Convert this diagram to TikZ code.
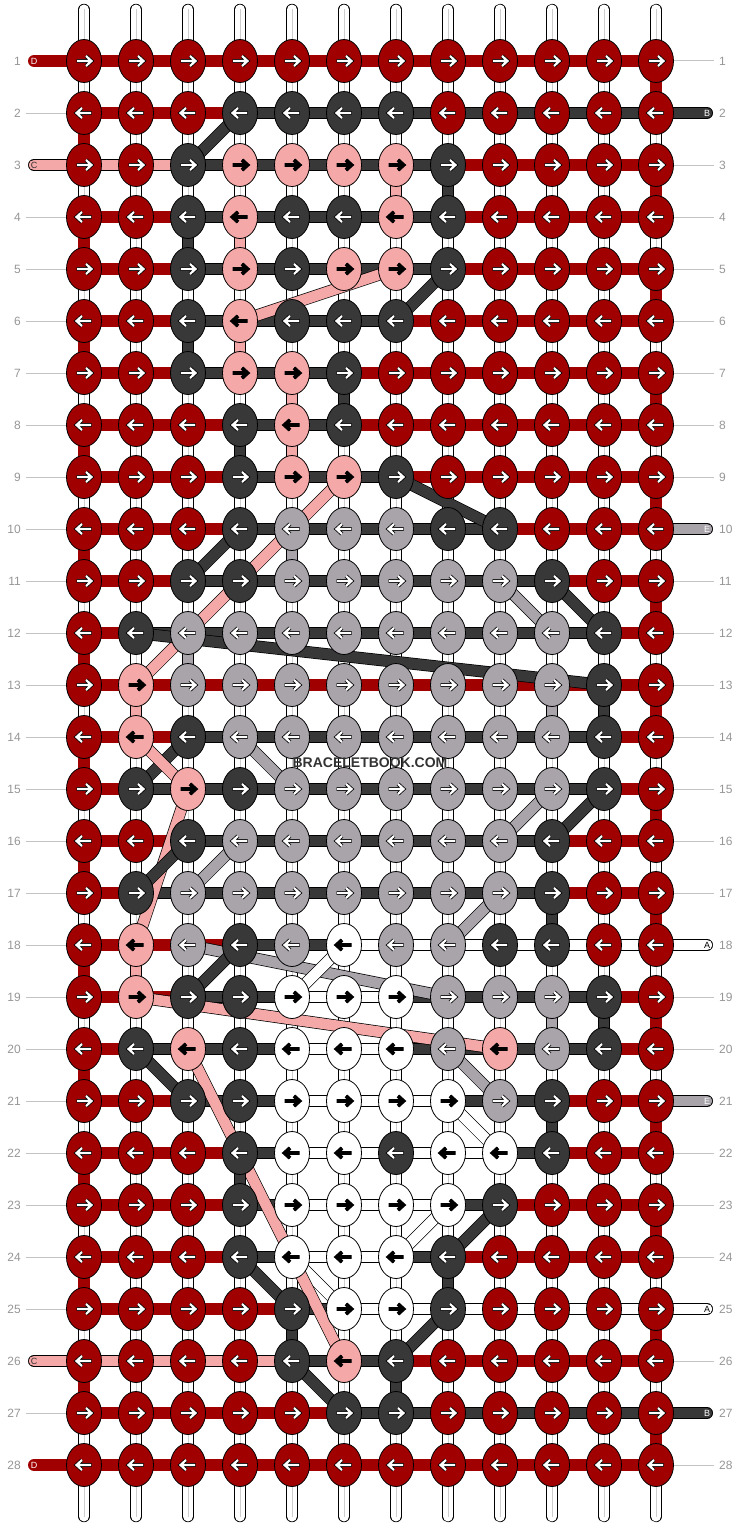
\documentclass[tikz,border=0pt]{standalone}
\usepackage{fontspec}
\setmainfont{Liberation Sans}
\usetikzlibrary{shapes.geometric}

\definecolor{knotred}{RGB}{160,0,0}
\definecolor{knotdark}{RGB}{56,56,56}
\definecolor{knotpink}{RGB}{245,168,168}
\definecolor{knotgray}{RGB}{168,164,170}
\definecolor{numgray}{RGB}{150,150,150}
\definecolor{leadgray}{RGB}{195,195,195}
\definecolor{midgray}{RGB}{205,205,205}
\definecolor{wmgray}{RGB}{51,51,51}

\pgfdeclarelayer{base}
\pgfdeclarelayer{thread}
\pgfsetlayers{base,thread,main}

\begin{document}
\begin{tikzpicture}[
    x=1pt, y=-1pt,
    arrowfill/.store in=\arrowfill,
    arrowedge/.store in=\arrowedge,
    knot/.style={ellipse, draw=black, line width=0.8pt, minimum width=35pt, minimum height=43pt, inner sep=0pt},
    arrR/.style={path picture={
        \begin{scope}[shift={(path picture bounding box.center)}]
        \draw[line width=3.8pt, \arrowedge, line join=miter] (-7.5,0) -- (7,0) (2,-5) -- (7.5,0) -- (2,5);
        \draw[line width=2.2pt, \arrowfill, line join=miter] (-7,0) -- (7,0) (2,-5) -- (7.5,0) -- (2,5);
        \end{scope}}},
    arrL/.style={path picture={
        \begin{scope}[shift={(path picture bounding box.center)}]
        \draw[line width=3.8pt, \arrowedge, line join=miter] (7.5,0) -- (-7,0) (-2,-5) -- (-7.5,0) -- (-2,5);
        \draw[line width=2.2pt, \arrowfill, line join=miter] (7,0) -- (-7,0) (-2,-5) -- (-7.5,0) -- (-2,5);
        \end{scope}}},
    kR/.style={fill=knotred, arrowfill=white, arrowedge=black},
    kK/.style={fill=knotdark, arrowfill=white, arrowedge=black},
    kP/.style={fill=knotpink, arrowfill=black, arrowedge=black},
    kG/.style={fill=knotgray, arrowfill=white, arrowedge=black},
    kW/.style={fill=white, arrowfill=black, arrowedge=black},
    thread/.style={line width=0.7pt, double distance=10.6pt},
    tR/.style={double=knotred, draw=knotred},
    tK/.style={double=knotdark},
    tP/.style={double=knotpink},
    tG/.style={double=knotgray},
    tW/.style={double=white},
    basestr/.style={line width=0.7pt, double=white, double distance=10pt, line cap=round},
    rownum/.style={text=numgray, font=\fontsize{12}{12}\selectfont, inner sep=0pt},
    leader/.style={draw=leadgray, line width=1pt},
    endlbl/.style={font=\fontsize{9}{9}\selectfont, inner sep=0pt},
    watermark/.style={text=wmgray, font=\bfseries\fontsize{14}{14}\selectfont}
]
\useasboundingbox (0,0) rectangle (740,1528);

% Knots (one colour list per row, odd rows right, even rows left)
\foreach \row [count=\r] in {%
    {R,R,R,R,R,R,R,R,R,R,R,R},%
    {R,R,R,K,K,K,K,R,R,R,R,R},%
    {R,R,K,P,P,P,P,K,R,R,R,R},%
    {R,R,K,P,K,K,P,K,R,R,R,R},%
    {R,R,K,P,K,P,P,K,R,R,R,R},%
    {R,R,K,P,K,K,K,R,R,R,R,R},%
    {R,R,K,P,P,K,R,R,R,R,R,R},%
    {R,R,R,K,P,K,R,R,R,R,R,R},%
    {R,R,R,K,P,P,K,R,R,R,R,R},%
    {R,R,R,K,G,G,G,K,K,R,R,R},%
    {R,R,K,K,G,G,G,G,G,K,R,R},%
    {R,K,G,G,G,G,G,G,G,G,K,R},%
    {R,P,G,G,G,G,G,G,G,G,K,R},%
    {R,P,K,G,G,G,G,G,G,G,K,R},%
    {R,K,P,K,G,G,G,G,G,G,K,R},%
    {R,R,K,G,G,G,G,G,G,K,R,R},%
    {R,K,G,G,G,G,G,G,G,K,R,R},%
    {R,P,G,K,G,W,G,G,K,K,R,R},%
    {R,P,K,K,W,W,W,G,G,G,K,R},%
    {R,K,P,K,W,W,W,G,P,G,K,R},%
    {R,R,K,K,W,W,W,W,G,K,R,R},%
    {R,R,R,K,W,W,K,W,W,K,R,R},%
    {R,R,R,K,W,W,W,W,K,R,R,R},%
    {R,R,R,K,W,W,W,K,R,R,R,R},%
    {R,R,R,R,K,W,W,K,R,R,R,R},%
    {R,R,R,R,K,P,K,R,R,R,R,R},%
    {R,R,R,R,R,K,K,R,R,R,R,R},%
    {R,R,R,R,R,R,R,R,R,R,R,R}%
}{
    \ifodd\r \def\ad{R}\else \def\ad{L}\fi
    \foreach \k [count=\c] in \row {
        \node[knot, k\k, arr\ad] (n-\r-\c) at ({84+52*(\c-1)}, {61+52*(\r-1)}) {};
    }
}

% Base strings
\begin{pgfonlayer}{base}
\foreach \c in {1,...,12} {
    \coordinate (top-\c) at ({84+52*(\c-1)}, 9.5);
    \coordinate (bot-\c) at ({84+52*(\c-1)}, 1516.5);
    \draw[basestr] (top-\c) -- (bot-\c);
    \draw[midgray, line width=0.6pt] (top-\c) -- (bot-\c);
}
\end{pgfonlayer}

% Row numbers
\foreach \r in {1,...,28} {
    \node[rownum, anchor=east] (ln-\r) at (21, {61+52*(\r-1)}) {\r};
    \node[rownum, anchor=west] (rn-\r) at (719, {61+52*(\r-1)}) {\r};
}

% String ends with letters
\foreach \r/\txt/\tc in {1/D/white, 3/C/wmgray, 26/C/wmgray, 28/D/white} {
    \node[endlbl, text=\tc] (xl-\r) at (34, {61+52*(\r-1)}) {\txt};
}
\foreach \r/\txt/\tc in {2/B/white, 10/E/white, 18/A/black, 21/E/white, 25/A/black, 27/B/white} {
    \node[endlbl, text=\tc] (xr-\r) at (707, {61+52*(\r-1)}) {\txt};
}

\begin{pgfonlayer}{thread}
% Leaders to the row numbers
\foreach \r in {2,4,5,6,7,8,9,10,11,12,13,14,15,16,17,18,19,20,21,22,23,24,25,27} {
    \draw[leader, shorten <=5pt] (ln-\r) -- (n-\r-1);
}
\foreach \r in {1,3,4,5,6,7,8,9,11,12,13,14,15,16,17,19,20,22,23,24,26,28} {
    \draw[leader, shorten >=5pt] (n-\r-12) -- (rn-\r);
}

% Loose ends
\foreach \r/\s in {1/R, 3/P, 26/P, 28/R} {
    \draw[thread, t\s, line cap=round] (xl-\r.center) -- (n-\r-1.center);
}
\foreach \r/\s in {2/K, 10/G, 18/W, 21/G, 25/W, 27/K} {
    \draw[thread, t\s, line cap=round] (n-\r-12.center) -- (xr-\r.center);
}

% Horizontal strands between knots
\foreach \row [count=\r] in {%
    {R,R,R,R,R,R,R,R,R,R,R},%
    {R,R,R,K,K,K,K,K,K,K,K},%
    {P,P,K,K,K,K,K,R,R,R,R},%
    {R,R,K,K,K,K,K,R,R,R,R},%
    {R,R,K,K,K,K,K,R,R,R,R},%
    {R,R,K,K,K,K,R,R,R,R,R},%
    {R,R,K,K,K,R,R,R,R,R,R},%
    {R,R,R,K,K,R,R,R,R,R,R},%
    {R,R,R,K,K,K,R,R,R,R,R},%
    {R,R,R,K,K,K,K,K,R,R,R},%
    {R,R,K,K,K,K,K,K,K,R,R},%
    {R,K,K,K,K,K,K,K,K,K,R},%
    {R,R,R,R,R,R,R,R,R,R,R},%
    {R,R,K,K,K,K,K,K,K,K,R},%
    {R,K,K,K,K,K,K,K,K,K,R},%
    {R,R,K,K,K,K,K,K,K,R,R},%
    {R,K,K,K,K,K,K,K,K,R,R},%
    {R,R,R,K,K,W,W,W,W,W,W},%
    {R,R,K,K,W,W,K,K,K,K,R},%
    {R,K,K,K,W,W,K,K,K,K,R},%
    {R,R,K,K,W,W,W,K,K,R,R},%
    {R,R,R,K,W,W,W,W,K,R,R},%
    {R,R,R,K,W,W,W,K,R,R,R},%
    {R,R,R,K,W,W,K,R,R,R,R},%
    {R,R,R,R,K,W,W,W,W,W,W},%
    {P,P,P,P,K,K,R,R,R,R,R},%
    {R,R,R,R,R,K,K,K,K,K,K},%
    {R,R,R,R,R,R,R,R,R,R,R}%
}{
    \foreach \s [count=\c] in \row {
        \pgfmathtruncatemacro{\cn}{\c+1}
        \draw[thread, t\s] (n-\r-\c.center) -- (n-\r-\cn.center);
    }
}

% Turns at the edges
\foreach \r in {1,3,...,27} {
    \pgfmathtruncatemacro{\rn}{\r+1}
    \draw[thread, tR] (n-\r-12.center) -- (n-\rn-12.center);
}
\foreach \r in {2,4,...,26} {
    \pgfmathtruncatemacro{\rn}{\r+1}
    \draw[thread, tR] (n-\r-1.center) -- (n-\rn-1.center);
}

% Strands running down or across rows
\foreach \ra/\ca/\rb/\cb/\s in {
    2/4/3/3/K, 3/7/4/7/P, 3/8/4/8/K, 4/3/5/3/K, 4/4/5/4/P,
    5/7/6/4/P, 5/8/6/7/K, 6/3/7/3/K, 6/4/7/4/P, 7/5/8/5/P,
    7/6/8/6/K, 8/4/9/4/K, 8/5/9/5/P, 9/7/10/9/K, 9/6/13/2/P,
    10/4/11/3/K, 10/5/11/5/G, 11/9/12/10/G, 11/10/12/11/K, 12/2/13/11/K,
    12/3/13/3/G, 13/2/14/2/P, 13/10/14/10/G, 13/11/14/11/K, 14/3/15/2/K,
    14/2/15/3/P, 14/4/15/5/G, 15/10/16/9/G, 15/11/16/10/K, 15/3/18/2/P,
    16/3/17/2/K, 16/4/17/3/G, 17/9/18/8/G, 17/10/18/10/K, 18/2/19/2/P,
    18/3/19/8/G, 18/4/19/3/K, 18/6/19/5/W, 19/2/20/9/P, 19/10/20/10/G,
    19/11/20/11/K, 20/2/21/3/K, 20/8/21/9/G, 20/3/24/5/P, 21/8/22/9/W,
    21/10/22/10/K, 22/4/23/4/K, 23/8/24/7/W, 23/9/24/8/K, 24/4/25/5/K,
    24/5/25/6/W, 24/5/26/6/P, 24/8/25/8/K, 25/8/26/7/K, 25/5/26/5/K,
    26/5/27/6/K, 26/7/27/7/K} {
    \draw[thread, t\s] (n-\ra-\ca.center) -- (n-\rb-\cb.center);
}
\end{pgfonlayer}

% Watermark
\node[watermark] (wm) at (370,763) {BRACELETBOOK.COM};
\end{tikzpicture}
\end{document}
